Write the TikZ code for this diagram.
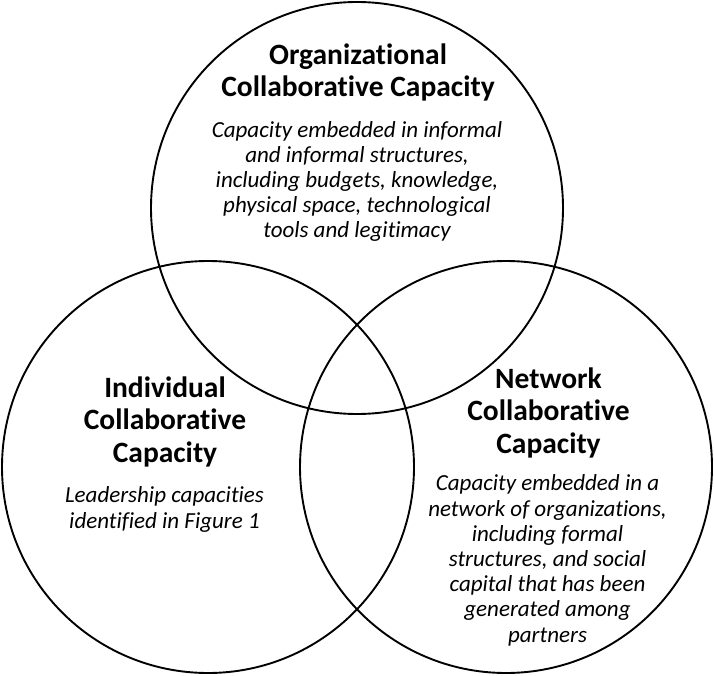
\documentclass[tikz,border=0pt]{standalone}
\usepackage{fontspec}
\setmainfont{Carlito}[Ligatures=CommonOff]
\begin{document}
\begin{tikzpicture}[x=1pt,y=-1pt,
  ring/.style={circle,draw=black,line width=1.9pt,minimum size=412pt,inner sep=0pt},
  ttl/.style={align=center,anchor=base,inner sep=0pt,font=\fontsize{29.5}{32.5}\selectfont\bfseries},
  dsc/.style={align=center,anchor=base,inner sep=0pt,font=\fontsize{23}{25.2}\selectfont\itshape}]
\useasboundingbox (0,0) rectangle (714,676);
\node[ring] (org) at (357,208) {};
\node[ring] (ind) at (208,467) {};
\node[ring] (net) at (506,467) {};
% anchor=base of a multi-line node is the baseline of its last line
\node[ttl] (orgT) at (358,97) {Organizational\\Collaborative Capacity};
\node[dsc] (orgD) at (357,238) {Capacity embedded in informal\\and informal structures,\\including budgets, knowledge,\\physical space, technological\\tools and legitimacy};
\node[ttl] (indT) at (165,462) {Individual\\Collaborative\\Capacity};
\node[dsc] (indD) at (164.5,528) {Leadership capacities\\identified in Figure 1};
\node[ttl] (netT) at (548.5,453) {Network\\Collaborative\\Capacity};
\node[dsc] (netD) at (547.5,642) {Capacity embedded in a\\network of organizations,\\including formal\\structures, and social\\capital that has been\\generated among\\partners};
\end{tikzpicture}
\end{document}
